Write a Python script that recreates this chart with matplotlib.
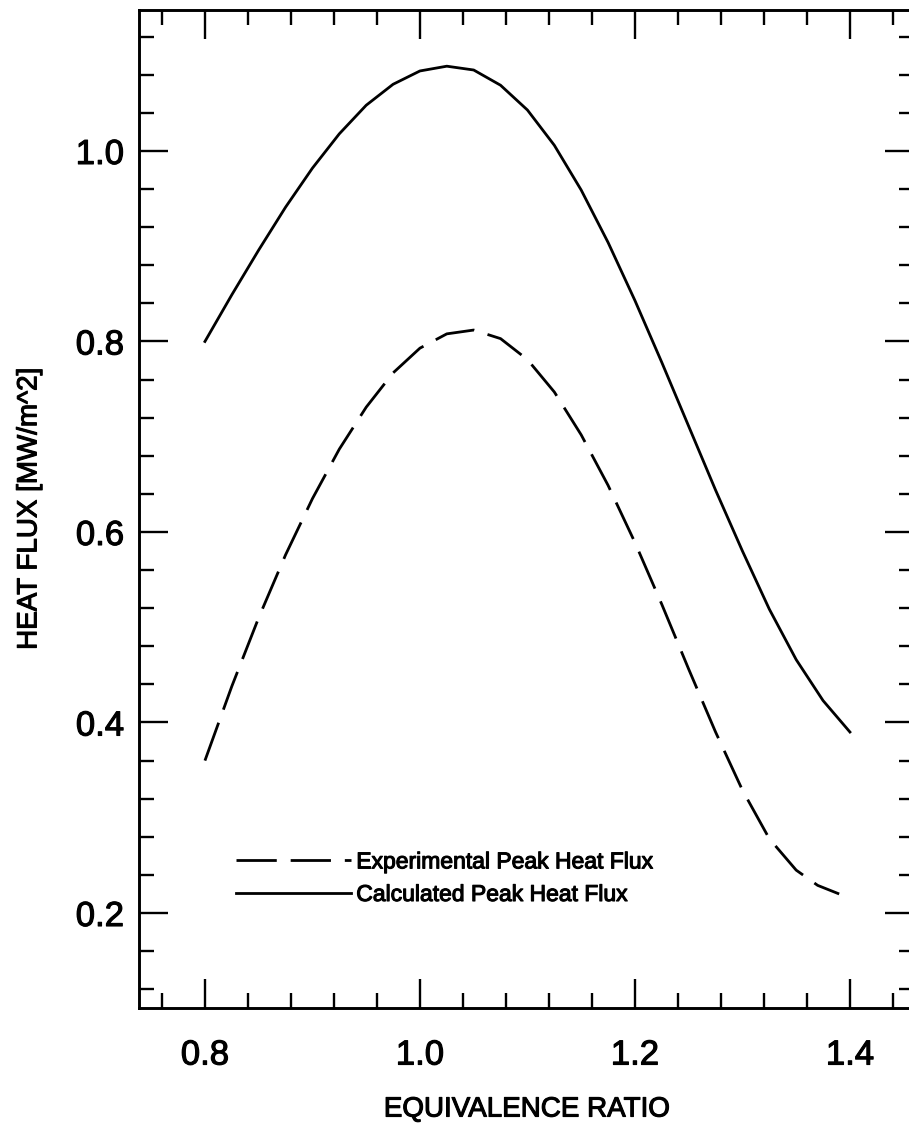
import matplotlib
matplotlib.use("Agg")
import matplotlib.pyplot as plt
import matplotlib.patheffects as pe
from matplotlib.ticker import MultipleLocator

plt.rcParams['font.family'] = ['Liberation Sans', 'DejaVu Sans']

# Equivalence ratio samples
phi = [0.800, 0.825, 0.850, 0.875, 0.900, 0.925, 0.950, 0.975, 1.000, 1.025,
       1.050, 1.075, 1.100, 1.125, 1.150, 1.175, 1.200, 1.225, 1.250, 1.275,
       1.300, 1.325, 1.350, 1.375, 1.400]

# Calculated peak heat flux [MW/m^2]
calculated = [0.800, 0.849, 0.896, 0.941, 0.982, 1.018, 1.048, 1.070, 1.084, 1.089,
              1.085, 1.069, 1.043, 1.006, 0.959, 0.904, 0.843, 0.778, 0.711, 0.644,
              0.580, 0.519, 0.466, 0.423, 0.390]

# Experimental peak heat flux [MW/m^2]
phi_exp = [0.800, 0.825, 0.850, 0.875, 0.900, 0.925, 0.950, 0.975, 1.000, 1.025,
           1.050, 1.075, 1.100, 1.125, 1.150, 1.175, 1.200, 1.225, 1.250, 1.275,
           1.300, 1.325, 1.350, 1.370, 1.390]
experimental = [0.360, 0.438, 0.510, 0.576, 0.635, 0.687, 0.731, 0.767, 0.793, 0.808,
                0.812, 0.803, 0.781, 0.747, 0.702, 0.649, 0.589, 0.524, 0.456, 0.390,
                0.329, 0.278, 0.245, 0.229, 0.220]

x_ticks = [0.8, 1.0, 1.2, 1.4]
x_labels = ["0.8", "1.0", "1.2", "1.4"]
y_ticks = [0.2, 0.4, 0.6, 0.8, 1.0]
y_labels = ["0.2", "0.4", "0.6", "0.8", "1.0"]

heavy = [pe.withStroke(linewidth=0.8, foreground='black')]

fig = plt.figure(figsize=(9.09, 11.36), dpi=100)
ax = fig.add_axes([0.1532, 0.1127, 0.8523, 0.8785])

ax.plot(phi_exp, experimental, color='black', lw=2.0,
        dashes=(14.5, 5.0), label='Experimental Peak Heat Flux')
ax.plot(phi, calculated, color='black', lw=2.0,
        label='Calculated Peak Heat Flux')

ax.set_xlim(0.7389, 1.4596)
ax.set_ylim(0.1003, 1.148)

ax.set_xticks(x_ticks)
ax.set_xticklabels(x_labels)
ax.set_yticks(y_ticks)
ax.set_yticklabels(y_labels)
ax.xaxis.set_minor_locator(MultipleLocator(0.04))
ax.yaxis.set_minor_locator(MultipleLocator(0.04))

ax.tick_params(which='both', direction='in', top=True, right=True,
               width=1.7, color='black')
ax.tick_params(which='major', length=21, labelsize=25, pad=11)
ax.tick_params(axis='x', which='major', pad=22)
ax.tick_params(which='minor', length=11)

for s in ax.spines.values():
    s.set_linewidth(2.1)

ax.set_xlabel('EQUIVALENCE RATIO', fontsize=20, labelpad=18)
ax.set_ylabel('HEAT FLUX [MW/m^2]', fontsize=20, labelpad=24)

leg = ax.legend(loc='lower left', bbox_to_anchor=(0.113, 0.093),
                frameon=False, fontsize=16.5, handlelength=5.0,
                handletextpad=0.25, labelspacing=0.42, borderaxespad=0)

for t in (ax.get_xticklabels() + ax.get_yticklabels() + leg.get_texts()
          + [ax.xaxis.label, ax.yaxis.label]):
    t.set_path_effects(heavy)

fig.savefig('out.png', dpi=100)
